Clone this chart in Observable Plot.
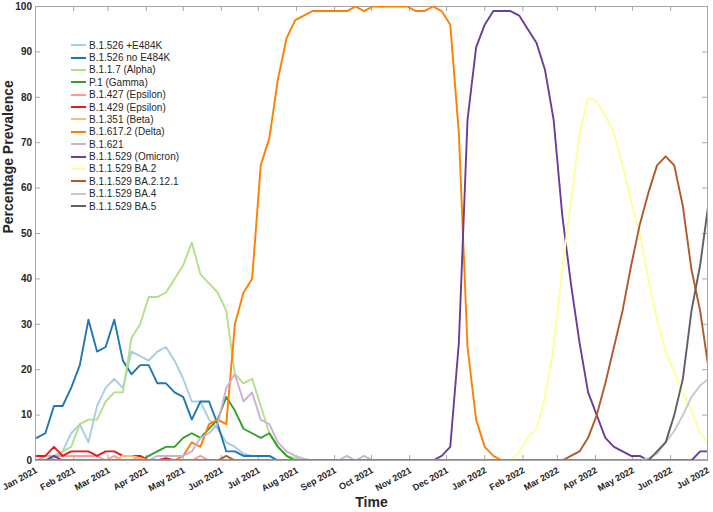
<!DOCTYPE html>
<html><head><meta charset="utf-8">
<script src="https://cdn.jsdelivr.net/npm/d3@7"></script>
<script src="https://cdn.jsdelivr.net/npm/@observablehq/plot@0.6"></script>
<style>
body{margin:0;background:#fff;}
#wrap{position:relative;width:713px;height:512px;font-family:"Liberation Sans",Arial,sans-serif;}
#legend{position:absolute;left:71px;top:39px;font-size:10px;color:#262626;}
.item{height:12.38px;display:flex;align-items:center;white-space:nowrap;}
.sw{width:15px;height:0;border-top:2px solid;margin-right:3px;}
</style></head><body><div id="wrap"></div>
<script>
// weekly samples (Saturdays) starting here
const startDate = "2021-01-02";
const xDomain = ["2021-01-01", "2022-07-01"];
const xTickDates = ["2021-01-01","2021-02-01","2021-03-01","2021-04-01","2021-05-01","2021-06-01","2021-07-01","2021-08-01","2021-09-01","2021-10-01","2021-11-01","2021-12-01","2022-01-01","2022-02-01","2022-03-01","2022-04-01","2022-05-01","2022-06-01","2022-07-01"];
const yTicks = [0,10,20,30,40,50,60,70,80,90,100];

const seriesNames = ["B.1.526 +E484K","B.1.526 no E484K","B.1.1.7 (Alpha)","P.1 (Gamma)","B.1.427 (Epsilon)","B.1.429 (Epsilon)","B.1.351 (Beta)","B.1.617.2 (Delta)","B.1.621","B.1.1.529 (Omicron)","B.1.1.529 BA.2","B.1.1.529 BA.2.12.1","B.1.1.529 BA.4","B.1.1.529 BA.5"];
const seriesColors = ["#a6cee3","#1f78b4","#b2df8a","#33a02c","#fb9a99","#e31a1c","#fdbf6f","#ff7f00","#cab2d6","#6a3d9a","#ffff99","#b15928","#c8c8c8","#606060"];

const vB1526E484K = [
0,0,1,2,6,8,4,12,16,18,
16,24,23,22,24,25,22,18,13,13,
9,7,4,3,1.5,1,1,1,0,0,
0,0,0,0,0,0,0,0,0,0,
0,0,0,0,0,0,0,0,0,0,
0,0,0,0,0,0,0,0,0,0,
0,0,0,0,0,0,0,0,0,0,
0,0,0,0,0,0,0,0,0];
const vB1526no = [
5,6,12,12,16,21,31,24,25,31,
22,19,21,21,17,17,15,14,9,13,
13,8,2,2,1,1,1,1,0,0,
0,0,0,0,0,0,0,0,0,0,
0,0,0,0,0,0,0,0,0,0,
0,0,0,0,0,0,0,0,0,0,
0,0,0,0,0,0,0,0,0,0,
0,0,0,0,0,0,0,0,0];
const vAlpha = [
0,0,0.5,2,3,8,9,9,13,15,
15,27,30,36,36,37,40,43,48,41,
39,37,33,19,17,18,12,6,3,1,
0.5,0,0,0,0,0,0,0,0,0,
0,0,0,0,0,0,0,0,0,0,
0,0,0,0,0,0,0,0,0,0,
0,0,0,0,0,0,0,0,0,0,
0,0,0,0,0,0,0,0,0];
const vGamma = [
0,0,0,0,0,0,0,0,0,0,
0,0,0,1,2,3,3,5,6,5,
7,9,14,11,7,6,5,6,3,1,
0,0,0,0,0,0,0,0,0,0,
0,0,0,0,0,0,0,0,0,0,
0,0,0,0,0,0,0,0,0,0,
0,0,0,0,0,0,0,0,0,0,
0,0,0,0,0,0,0,0,0];
const vB1427 = [
0,1,1,1,1,1,1,1,0,1,
0,0,1,0,0,0,0,0,0,1,
0,0,0,0,0,0,0,0,0,0,
0,0,0,0,0,0,0,0,0,0,
0,0,0,0,0,0,0,0,0,0,
0,0,0,0,0,0,0,0,0,0,
0,0,0,0,0,0,0,0,0,0,
0,0,0,0,0,0,0,0,0];
const vB1429 = [
1,1,3,1,2,2,2,1,2,2,
1,1,1,0,0,0.5,0,0,0,0,
0,0,0,0,0,0,0,0,0,0,
0,0,0,0,0,0,0,0,0,0,
0,0,0,0,0,0,0,0,0,0,
0,0,0,0,0,0,0,0,0,0,
0,0,0,0,0,0,0,0,0,0,
0,0,0,0,0,0,0,0,0];
const vBeta = [
0,0,0,0,0,0,0,0,0,0,
1,1,0.5,0,0,0,0,0,0,0,
0,0,0,0,0,0,0,0,0,0,
0,0,0,0,0,0,0,0,0,0,
0,0,0,0,0,0,0,0,0,0,
0,0,0,0,0,0,0,0,0,0,
0,0,0,0,0,0,0,0,0,0,
0,0,0,0,0,0,0,0,0];
const vDelta = [
0,0,0,0,0,0,0,0,0,0,
0,0,0,0,0,0,0,1,4,3,
8,9,8,30,37,40,65,71,84,93,
97,98,99,99,99,99,99,100,99,100,
100,100,100,100,99,99,100,99,96,72,
25,9,3,1,0,0,0,0,0,0,
0,0,0,0,0,0,0,0,0,0,
0,0,0,0,0,0,0,0,0];
const vB1621 = [
0,0,0,0,0,0,0,0,0,0,
0,0,0,0,1,1,1,1,2,5,
6,8,16,19,13,15,9,8,4,2,
1,0.4,0,0,0,0,1,0,1,0,
0,0,0,0,0,0,0,0,0,0,
0,0,0,0,0,0,0,0,0,0,
0,0,0,0,0,0,0,0,0,0,
0,0,0,0,0,0,0,0,0];
const vOmicron = [
0,0,1,0,0,0,0,0,0,0,
0,0,0,0,0,0,0,0,0,0,
0,0,0,0,0,0,0,0,0,0,
0,0,0,0,0,0,0,0,0,0,
0,0,0,0,0,0,0,1,3,26,
75,91,96,99,99,99,98,95,92,86,
75,54,39,26,15,10,5,3,2,1,
1,0,0,0,0,0,0,2,2];
const vBA2 = [
0,0,0,0,0,0,0,0,0,0,
0,0,0,0,0,0,0,0,0,0,
0,0,0,0,0,0,0,0,0,0,
0,0,0,0,0,0,0,0,0,0,
0,0,0,0,0,0,0,0,0,0,
0,0,0,0,0,0,2,5,7,14,
25,42,57,72,80,79,76,72,65,57,
50,40,31,24,19.5,15,11,6,3.7];
const vBA2121 = [
0,0,0,0,0,0,0,0,0,0,
0,0,0,0,0,0,0,0,0,0,
0,0,1,0,0,0,0,0,0,0,
0,0,0,0,0,0,0,0,0,0,
0,0,0,0,0,0,0,0,0,0,
0,0,0,0,0,0,0,0,0,0,
0,0,1,2,5,10,17,25,33,43,
52,59,65,67,65,56,42,33,20];
const vBA4 = [
0,0,0,0,0,0,0,0,0,0,
0,0,0,0,0,0,0,0,0,0,
0,0,0,0,0,0,0,0,0,0,
0,0,0,0,0,0,0,0,0,0,
0,0,0,0,0,0,0,0,0,0,
0,0,0,0,0,0,0,0,0,0,
0,0,0,0,0,0,0,0,0,0,
0,0.5,1.5,4,6.5,10,14,16.5,18];
const vBA5 = [
0,0,0,0,0,0,0,0,0,0,
0,0,0,0,0,0,0,0,0,0,
0,0,0,0,0,0,0,0,0,0,
0,0,0,0,0,0,0,0,0,0,
0,0,0,0,0,0,0,0,0,0,
0,0,0,0,0,0,0,0,0,0,
0,0,0,0,0,0,0,0,0,0,
0,0,2,4,10,18,33,43,57];

const seriesValues = [vB1526E484K,vB1526no,vAlpha,vGamma,vB1427,vB1429,vBeta,vDelta,vB1621,vOmicron,vBA2,vBA2121,vBA4,vBA5];

const W = 713, H = 512, mL = 35, mR = 6, mT = 6, mB = 52;
const plotW = W - mL - mR, plotH = H - mT - mB;
const axisColor = "#a6a6a6", textColor = "#262626";
const start = new Date(startDate);
const dates = vBA5.map((_, k) => d3.utcDay.offset(start, 7 * k));
const data = seriesNames.flatMap((name, i) => seriesValues[i].map((v, k) => ({name, date: dates[k], value: v})));
const xTicks = xTickDates.map(s => new Date(s));

const chart = Plot.plot({
  width: W, height: H,
  marginLeft: mL, marginRight: mR, marginTop: mT, marginBottom: mB,
  style: {fontFamily: "'Liberation Sans', Arial, sans-serif", background: "white", overflow: "visible"},
  x: {type: "utc", domain: xDomain.map(s => new Date(s))},
  y: {domain: [0, 100]},
  color: {domain: seriesNames, range: seriesColors},
  marks: [
    Plot.frame({stroke: axisColor, strokeWidth: 1}),
    Plot.tickY(yTicks, {y: d => d, stroke: axisColor, insetRight: plotW - 5}),
    Plot.tickY(yTicks, {y: d => d, stroke: axisColor, insetLeft: plotW - 5}),
    Plot.tickX(xTicks, {x: d => d, stroke: axisColor, insetTop: plotH - 5}),
    Plot.tickX(xTicks, {x: d => d, stroke: axisColor, insetBottom: plotH - 5}),
    Plot.line(data, {x: "date", y: "value", z: "name", stroke: "name", strokeWidth: 1.9, clip: true}),
    Plot.axisY(yTicks, {tickSize: 0, tickPadding: 3.5, fontSize: 10, fontWeight: "bold", fill: textColor, label: null}),
    Plot.axisX(xTicks, {tickSize: 0, tickPadding: 9, dx: 1, tickRotate: -29, tickFormat: d3.utcFormat("%b %Y"), fontSize: 9, fontWeight: "bold", fill: textColor, label: null}),
    Plot.text(["Percentage Prevalence"], {frameAnchor: "left", dx: -27, rotate: -90, fontSize: 14, fontWeight: "bold", fill: textColor}),
    Plot.text(["Time"], {frameAnchor: "bottom", dy: 46, fontSize: 14, fontWeight: "bold", fill: textColor})
  ]
});

const wrap = document.getElementById("wrap");
wrap.appendChild(chart);
const legend = d3.select(wrap).append("div").attr("id", "legend");
seriesNames.forEach((name, i) => {
  const it = legend.append("div").attr("class", "item");
  it.append("div").attr("class", "sw").style("border-top-color", seriesColors[i]);
  it.append("span").text(name);
});
</script>
</body></html>
